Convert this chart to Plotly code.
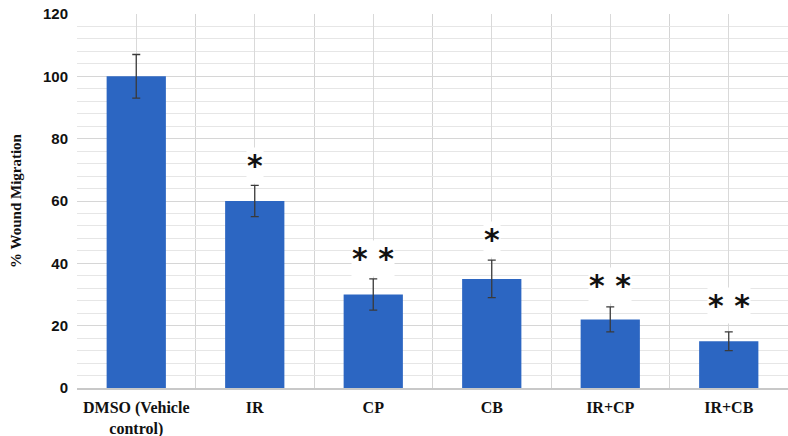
import plotly.graph_objects as go

categories = ["DMSO (Vehicle<br>control)", "IR", "CP", "CB", "IR+CP", "IR+CB"]
values = [100, 60, 30, 35, 22, 15]
errors = [7, 5, 5, 6, 4, 3]
stars = ["", "*", "* *", "*", "* *", "* *"]
star_y = [None, 71.5, 41.5, 47.5, 33, 26.5]

xs = list(range(len(categories)))

fig = go.Figure()
fig.add_trace(go.Bar(
    x=xs, y=values, width=0.5,
    marker=dict(color="#2c66c2", line=dict(width=0)),
    error_y=dict(type="data", array=errors, visible=True, color="#3a3a3a", thickness=1.3, width=4),
))

for x, s, y in zip(xs, stars, star_y):
    if s:
        fig.add_annotation(x=x, y=y, text=s, showarrow=False,
                           font=dict(family="DejaVu Sans", size=30, color="#111", weight="bold"),
                           bgcolor="white", borderpad=0)

fig.update_layout(
    width=788, height=436,
    margin=dict(l=77, r=0, t=14, b=48, autoexpand=False),
    plot_bgcolor="white", paper_bgcolor="white",
    showlegend=False,
    bargap=0.5,
)
fig.update_xaxes(
    range=[-0.5, 5.5], tickmode="array", tickvals=xs, ticktext=categories,
    showgrid=True, gridcolor="#d9d9d9", gridwidth=1,
    minor=dict(tick0=0.5, dtick=1, showgrid=True, gridcolor="#d4d4d4", gridwidth=1.3),
    showline=True, linecolor="#c8c8c8", linewidth=1.5,
    tickfont=dict(family="Liberation Serif", size=16, color="#111", weight="bold"),
    ticks="", zeroline=False, automargin=False, ticklabelstandoff=4,
    ticklabeloverflow="allow",
)
fig.update_yaxes(
    range=[0, 120], dtick=20, tick0=0,
    showgrid=True, gridcolor="#d6d6d6", gridwidth=1.2,
    minor=dict(dtick=4, showgrid=True, gridcolor="#e6e6e6", gridwidth=1),
    tickfont=dict(family="Liberation Sans", size=15, color="#111", weight="bold"),
    title=dict(text="% Wound Migration", font=dict(family="Liberation Serif", size=15, color="#111", weight="bold"), standoff=17),
    ticks="", zeroline=False, showline=False, automargin=False, ticklabelstandoff=8,
    ticklabeloverflow="allow",
)

fig.write_html("out.html", config={"displayModeBar": False},
               post_script="document.body.style.margin='0';document.body.style.overflow='hidden';")
